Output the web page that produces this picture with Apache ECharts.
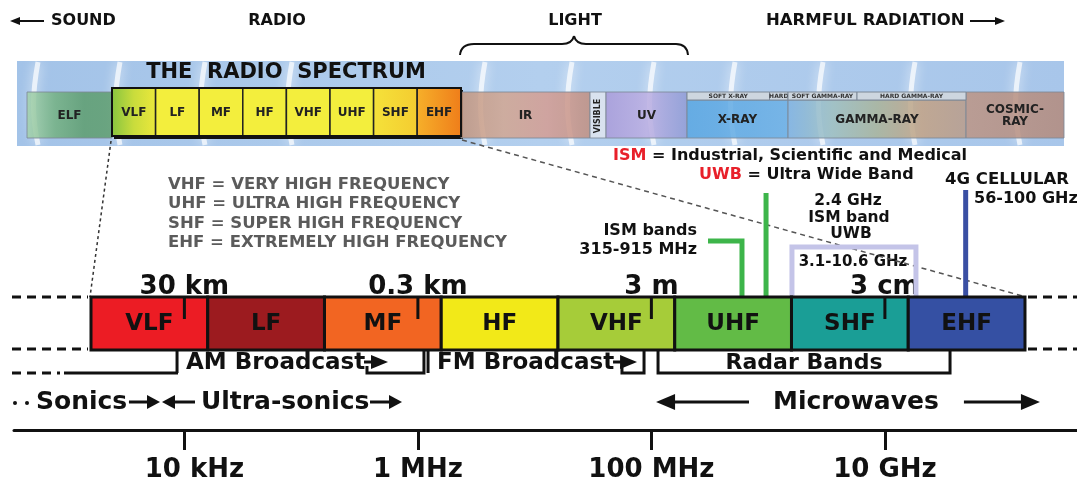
<!DOCTYPE html>
<html>
<head>
<meta charset="utf-8">
<script src="https://cdn.jsdelivr.net/npm/echarts@6/dist/echarts.min.js"></script>
<style>html,body{margin:0;padding:0;background:#fff}#main{width:1077px;height:477px}</style>
</head>
<body>
<div id="main"></div>
<script>
// main bands, positions in log10(Hz)
var bandNames = ['VLF', 'LF', 'MF', 'HF', 'VHF', 'UHF', 'SHF', 'EHF'];
var bandEdges = [3.2, 4.2, 5.2, 6.2, 7.2, 8.2, 9.2, 10.2, 11.2];

var freqTicks = [4, 6, 8, 10];
var freqLabels = ['10 kHz', '1 MHz', '100 MHz', '10 GHz'];
var waveLabels = ['30 km', '0.3 km', '3 m', '3 cm'];

var broadcastNames = ['AM Broadcast', 'FM Broadcast'];
var broadcastStart = [3.937, 6.087];
var broadcastBox = [5.564, 7.748];
var broadcastArrow = [5.744, 7.877];
var broadcastEnd = [6.052, 7.937];
var radarName = 'Radar Bands';
var radarRange = [8.057, 10.558];

var rowTexts = ['Sonics', 'Ultra-sonics', 'Microwaves'];
var rowTextAt = [2.729, 4.142, 9.752];
var rowArrowFrom = [3.525, 4.091, 5.59, 8.836, 10.677];
var rowArrowTo = [3.791, 3.808, 5.864, 8.04, 11.328];

var ismBracket = [8.485, 8.776];
var ism24 = 8.982;
var uwbRange = [9.204, 10.266];
var cell4g = 10.692;

// top strip (whole spectrum), relative widths
var stripNames = ['ELF', 'VLF', 'LF', 'MF', 'HF', 'VHF', 'UHF', 'SHF', 'EHF', 'IR', 'VISIBLE', 'UV', 'X-RAY', 'GAMMA-RAY', 'COSMIC-\nRAY'];
var stripWidths = [85, 43.6, 43.6, 43.6, 43.6, 43.6, 43.6, 43.6, 43.8, 129, 16, 81, 101, 178, 98];
var subNames = ['SOFT X-RAY', 'HARD', 'SOFT GAMMA-RAY', 'HARD GAMMA-RAY'];
var subWidths = [82.5, 18.5, 69, 109];

var F = '"DejaVu Sans", sans-serif';
var INK = '#111';
var bandColors = ['#ec1c24', '#9c1b1f', '#f26522', '#f2e918', '#a6cc39', '#62bb46', '#1a9e96', '#3550a3'];

function lg(stops) {
    return new echarts.graphic.LinearGradient(0, 0, 1, 0, stops.map(function (c, i) {
        return {offset: i / (stops.length - 1), color: c};
    }));
}
var stripColors = [
    lg(['#a6d3ae', '#74b181', '#5d9d6d', '#5f9e6e']),
    lg(['#86c440', '#c9dc3c', '#ece83b']),
    '#f3ee3d', '#f3ee3d', '#f3ee3d', '#f3ee3d', '#f3ee3d',
    lg(['#f5e23a', '#f4cc30']),
    lg(['#f6b02a', '#ef7d1a']),
    lg(['#c0957f', '#d2a691', '#d49c92', '#c08f80']),
    '#dfe5ef',
    lg(['#a99bd9', '#bcaee2', '#8f9bd5']),
    lg(['#58a6e2', '#6db1e6']),
    lg(['#80b3e2', '#9fc0c0', '#a9b49a', '#c3a284', '#b99c8a']),
    lg(['#bc9585', '#b38a7c'])
];

var Y = {bandTop: 297, bandBot: 350, tickBot: 319, wave: 287, brTop: 350, brBot: 373, brBox: 366, brText: 362, row: 402};

function line(p, q, color, w, dash) {
    return {type: 'line', shape: {x1: p[0], y1: p[1], x2: q[0], y2: q[1]}, style: {stroke: color, lineWidth: w, lineDash: dash || null}};
}
function curve(x1, y1, cx, cy, x2, y2) {
    return {type: 'bezierCurve', shape: {x1: x1, y1: y1, cpx1: cx, cpy1: cy, x2: x2, y2: y2}, style: {stroke: INK, lineWidth: 2, fill: null}};
}
function txt(x, y, s, font, align, fill) {
    return {type: 'text', x: x, y: y, style: {text: s, font: font, fill: fill || INK, align: align || 'center', verticalAlign: 'middle'}};
}
function arrow(x0, x1, y, head, half, w) {
    var dir = x1 > x0 ? 1 : -1;
    return [
        line([x0, y], [x1 - dir * head * 0.7, y], INK, w),
        {type: 'polygon', shape: {points: [[x1, y], [x1 - dir * head, y - half], [x1 - dir * head, y + half]]}, style: {fill: INK}}
    ];
}

var stripData = [];
var acc = 0;
stripWidths.forEach(function (w, i) { stripData.push([acc, acc + w, i]); acc += w; });
var subData = [];
acc = stripData[12][0];
subWidths.forEach(function (w, i) { subData.push([acc, acc + w, i]); acc += w; });

var labelFont = {fontSize: 26, fontWeight: 'bold', fontFamily: 'DejaVu Sans', color: INK};

var myecharts = echarts.init(document.getElementById('main'));
var option = {
    animation: false,
    grid: [
        {left: 14, right: 0, top: 0, bottom: 47, outerBoundsMode: 'none', containLabel: false},
        {left: 27, width: 1037, top: 92, height: 46, outerBoundsMode: 'none', containLabel: false}
    ],
    xAxis: [
        {
            type: 'value', gridIndex: 0, min: 2.5405, max: 11.6455,
            splitLine: {show: false},
            axisLine: {onZero: false, lineStyle: {color: INK, width: 3}},
            axisTick: {customValues: freqTicks, length: 20, lineStyle: {color: INK, width: 3}},
            axisLabel: {
                customValues: freqTicks, margin: 27,
                fontSize: 26, fontWeight: 'bold', fontFamily: 'DejaVu Sans', color: INK,
                formatter: function (v) {
                    var i = freqTicks.indexOf(Math.round(v));
                    return i === 0 ? '{s|' + freqLabels[i] + '}' : freqLabels[i];
                },
                rich: {s: Object.assign({padding: [0, 0, 0, 20]}, labelFont)}
            }
        },
        {type: 'value', gridIndex: 1, min: 0, max: 1037, show: false}
    ],
    yAxis: [
        {type: 'value', gridIndex: 0, min: 0, max: 430, inverse: true, show: false},
        {type: 'value', gridIndex: 1, min: 0, max: 46, inverse: true, show: false}
    ],
    graphic: [
        // strip background + glow streaks
        {type: 'rect', z: 0, shape: {x: 17, y: 61, width: 1047, height: 85}, style: {fill: lg(['#a3c3e8', '#b3cfee', '#a8c6ea'])}},
        {type: 'group', z: 0, children: [38, 120, 205, 292, 485, 572, 654, 735, 823, 915, 1020].map(function (x) {
            return {type: 'bezierCurve', shape: {x1: x, y1: 62, cpx1: x - 6, cpy1: 95, cpx2: x - 6, cpy2: 115, x2: x, y2: 145},
                style: {stroke: 'rgba(255,255,255,0.7)', lineWidth: 5, shadowBlur: 12, shadowColor: '#fff', fill: null}};
        })},
        {type: 'text', z: 10, x: 286, y: 73, style: {text: 'THE  RADIO  SPECTRUM', font: 'bold 21px ' + F, fill: INK, align: 'center', verticalAlign: 'middle'}},
        // top headings
        {type: 'group', z: 10, children: [
            txt(51, 21, 'SOUND', 'bold 16px ' + F, 'left'),
            txt(277, 21, 'RADIO', 'bold 16px ' + F),
            txt(575, 21, 'LIGHT', 'bold 16px ' + F),
            txt(766, 21, 'HARMFUL RADIATION', 'bold 16.5px ' + F, 'left'),
            curve(460, 55, 461, 44, 474, 44),
            line([474, 44], [562, 44], INK, 2),
            curve(562, 44, 572, 44, 574, 36),
            curve(574, 36, 576, 44, 586, 44),
            line([586, 44], [676, 44], INK, 2),
            curve(676, 44, 687, 44, 688, 55)
        ].concat(arrow(44, 10, 21, 10, 4, 2), arrow(970, 1005, 21, 10, 4, 2))},
        // legends
        {type: 'group', z: 10, children: [
            txt(168, 185, 'VHF = VERY HIGH FREQUENCY', 'bold 16.5px ' + F, 'left', '#5b5b5b'),
            txt(168, 204, 'UHF = ULTRA HIGH FREQUENCY', 'bold 16.5px ' + F, 'left', '#5b5b5b'),
            txt(168, 224, 'SHF = SUPER HIGH FREQUENCY', 'bold 16.5px ' + F, 'left', '#5b5b5b'),
            txt(168, 243, 'EHF = EXTREMELY HIGH FREQUENCY', 'bold 16.5px ' + F, 'left', '#5b5b5b'),
            {type: 'text', x: 613, y: 155.5, style: {text: '{r|ISM} = Industrial, Scientific and Medical', font: 'bold 16px ' + F, fill: INK, verticalAlign: 'middle',
                rich: {r: {fill: '#e8202a', font: 'bold 16px ' + F}}}},
            {type: 'text', x: 699, y: 174.5, style: {text: '{r|UWB} = Ultra Wide Band', font: 'bold 16px ' + F, fill: INK, verticalAlign: 'middle',
                rich: {r: {fill: '#e8202a', font: 'bold 16px ' + F}}}},
            txt(945, 180, '4G CELLULAR', 'bold 16.5px ' + F, 'left'),
            txt(974, 198.5, '56-100 GHz', 'bold 16px ' + F, 'left'),
            txt(848, 201, '2.4 GHz', 'bold 15.5px ' + F),
            txt(849, 217.5, 'ISM band', 'bold 15.5px ' + F),
            txt(851, 234, 'UWB', 'bold 15.5px ' + F),
            txt(697, 231, 'ISM bands', 'bold 16px ' + F, 'right'),
            txt(697, 250, '315-915 MHz', 'bold 16px ' + F, 'right'),
            txt(853, 262, '3.1-10.6 GHz', 'bold 15px ' + F)
        ]},
        // guide lines
        {type: 'group', z: 9, children: [
            line([111, 141], [90, 297], '#333', 1.5, [3, 3]),
            line([462, 140], [1026, 297], '#555', 1.5, [5, 4]),
            line([12, 297], [88, 297], INK, 3, [9, 6]),
            line([12, 349], [88, 349], INK, 3, [9, 6]),
            line([12, 373], [60, 373], INK, 3, [9, 6]),
            line([64, 373], [178, 373], INK, 3),
            line([1028, 297], [1077, 297], INK, 3, [9, 6]),
            line([1028, 349], [1077, 349], INK, 3, [9, 6]),
            {type: 'circle', shape: {cx: 15, cy: 403, r: 2}, style: {fill: INK}},
            {type: 'circle', shape: {cx: 27, cy: 403, r: 2}, style: {fill: INK}}
        ]}
    ],
    series: [
        {
            name: 'wavelength', type: 'custom', xAxisIndex: 0, yAxisIndex: 0, z: 1,
            data: freqTicks.map(function (v, i) { return [v, i]; }),
            renderItem: function (params, api) {
                var p = api.coord([api.value(0), Y.wave]);
                return txt(p[0], p[1], waveLabels[api.value(1)], 'bold 26px ' + F);
            }
        },
        {
            name: 'ISM bands', type: 'custom', xAxisIndex: 0, yAxisIndex: 0, z: 1,
            data: [[ismBracket[0], ismBracket[1]]],
            renderItem: function (params, api) {
                var a = api.coord([api.value(0), 241]), b = api.coord([api.value(1), 241]), c = api.coord([api.value(1), Y.bandTop]);
                return {type: 'polyline', shape: {points: [a, b, c]}, style: {stroke: '#3db54a', lineWidth: 5, fill: null}};
            }
        },
        {
            name: 'ISM 2.4', type: 'custom', xAxisIndex: 0, yAxisIndex: 0, z: 1,
            data: [[ism24]],
            renderItem: function (params, api) {
                return line(api.coord([api.value(0), 193]), api.coord([api.value(0), Y.bandTop]), '#3db54a', 5);
            }
        },
        {
            name: 'UWB', type: 'custom', xAxisIndex: 0, yAxisIndex: 0, z: 1,
            data: [[uwbRange[0], uwbRange[1]]],
            renderItem: function (params, api) {
                var x0 = api.value(0), x1 = api.value(1);
                return {type: 'polyline', shape: {points: [api.coord([x0, Y.bandTop]), api.coord([x0, 247]), api.coord([x1, 247]), api.coord([x1, Y.bandTop])]},
                    style: {stroke: '#c4c4e8', lineWidth: 5, fill: null}};
            }
        },
        {
            name: '4G', type: 'custom', xAxisIndex: 0, yAxisIndex: 0, z: 1,
            data: [[cell4g]],
            renderItem: function (params, api) {
                return line(api.coord([api.value(0), 190]), api.coord([api.value(0), Y.bandTop]), '#3a4fa3', 5);
            }
        },
        {
            name: 'bands', type: 'custom', xAxisIndex: 0, yAxisIndex: 0, z: 3,
            data: bandNames.map(function (n, i) { return [bandEdges[i], bandEdges[i + 1], i]; }),
            renderItem: function (params, api) {
                var i = api.value(2);
                var p0 = api.coord([api.value(0), Y.bandTop]);
                var p1 = api.coord([api.value(1), Y.bandBot]);
                return {type: 'group', children: [
                    {type: 'rect', shape: {x: p0[0], y: p0[1], width: p1[0] - p0[0], height: p1[1] - p0[1]},
                        style: {fill: bandColors[i], stroke: INK, lineWidth: 3}},
                    txt((p0[0] + p1[0]) / 2, (p0[1] + p1[1]) / 2 + 1, bandNames[i], 'bold 23px ' + F)
                ]};
            }
        },
        {
            name: 'wave ticks', type: 'custom', xAxisIndex: 0, yAxisIndex: 0, z: 4,
            data: freqTicks.map(function (v) { return [v]; }),
            renderItem: function (params, api) {
                return line(api.coord([api.value(0), Y.bandTop]), api.coord([api.value(0), Y.tickBot]), INK, 3);
            }
        },
        {
            name: 'broadcast', type: 'custom', xAxisIndex: 0, yAxisIndex: 0, z: 4,
            data: broadcastNames.map(function (n, i) { return [broadcastStart[i], broadcastBox[i], broadcastArrow[i], broadcastEnd[i], i]; }),
            renderItem: function (params, api) {
                var s = api.coord([api.value(0), Y.brTop]), bx = api.coord([api.value(1), Y.brBot]);
                var tip = api.coord([api.value(2), Y.brText]), e = api.coord([api.value(3), Y.brTop]);
                var i = api.value(4);
                return {type: 'group', children: [
                    line(s, [s[0], Y.brBot], INK, 3),
                    {type: 'polyline', shape: {points: [[bx[0], Y.brBox], bx, [e[0], Y.brBot], e]}, style: {stroke: INK, lineWidth: 3, fill: null}},
                    txt(s[0] + 9, Y.brText + 1, broadcastNames[i], 'bold 23px ' + F, 'left')
                ].concat(arrow(tip[0] - 24, tip[0], tip[1], 17, 7, 3))};
            }
        },
        {
            name: 'radar', type: 'custom', xAxisIndex: 0, yAxisIndex: 0, z: 4,
            data: [[radarRange[0], radarRange[1]]],
            renderItem: function (params, api) {
                var a = api.coord([api.value(0), Y.brTop]), b = api.coord([api.value(1), Y.brTop]);
                return {type: 'group', children: [
                    {type: 'polyline', shape: {points: [a, [a[0], Y.brBot], [b[0], Y.brBot], b]}, style: {stroke: INK, lineWidth: 3, fill: null}},
                    txt((a[0] + b[0]) / 2, Y.brText + 1, radarName, 'bold 22px ' + F)
                ]};
            }
        },
        {
            name: 'row text', type: 'custom', xAxisIndex: 0, yAxisIndex: 0, z: 4,
            data: rowTexts.map(function (t, i) { return [rowTextAt[i], i]; }),
            renderItem: function (params, api) {
                var i = api.value(1);
                var p = api.coord([api.value(0), Y.row]);
                return txt(p[0], p[1], rowTexts[i], 'bold 25px ' + F, i === 2 ? 'center' : 'left');
            }
        },
        {
            name: 'row arrows', type: 'custom', xAxisIndex: 0, yAxisIndex: 0, z: 4,
            data: rowArrowFrom.map(function (v, i) { return [v, rowArrowTo[i], i]; }),
            renderItem: function (params, api) {
                var big = api.value(2) >= 3;
                var a = api.coord([api.value(0), Y.row]), b = api.coord([api.value(1), Y.row]);
                return {type: 'group', children: arrow(a[0], b[0], a[1], big ? 19 : 13, big ? 8 : 7, 3)};
            }
        },
        {
            name: 'radio shadow', type: 'custom', xAxisIndex: 1, yAxisIndex: 1, z: 2,
            data: [[stripData[1][0], stripData[8][1]]],
            renderItem: function (params, api) {
                var p0 = api.coord([api.value(0), -4]), p1 = api.coord([api.value(1), 44]);
                return {type: 'rect', shape: {x: p0[0] + 2, y: p0[1] + 2, width: p1[0] - p0[0], height: p1[1] - p0[1] + 1}, style: {fill: '#111'}};
            }
        },
        {
            name: 'strip', type: 'custom', xAxisIndex: 1, yAxisIndex: 1, z: 3,
            data: stripData,
            renderItem: function (params, api) {
                var i = api.value(2);
                var radio = i >= 1 && i <= 8;
                var top = radio ? -4 : (i === 12 || i === 13 ? 8 : 0);
                var bot = radio ? 44 : 46;
                var p0 = api.coord([api.value(0), top]);
                var p1 = api.coord([api.value(1), bot]);
                var label = {type: 'text', x: (p0[0] + p1[0]) / 2, y: (p0[1] + p1[1]) / 2 + 1,
                    style: {text: stripNames[i], font: 'bold 12px ' + F, fill: '#222', align: 'center', verticalAlign: 'middle', lineHeight: 12}};
                if (stripNames[i] === 'VISIBLE') {
                    label.rotation = Math.PI / 2;
                    label.style.font = 'bold 8px ' + F;
                }
                return {type: 'group', children: [
                    {type: 'rect', shape: {x: p0[0], y: p0[1], width: p1[0] - p0[0], height: p1[1] - p0[1]},
                        style: {fill: stripColors[i], stroke: radio ? '#222' : '#7d8896', lineWidth: radio ? 1.5 : 1, opacity: radio ? 1 : 0.85}},
                    label
                ]};
            }
        },
        {
            name: 'strip sub', type: 'custom', xAxisIndex: 1, yAxisIndex: 1, z: 3,
            data: subData,
            renderItem: function (params, api) {
                var p0 = api.coord([api.value(0), 0]), p1 = api.coord([api.value(1), 8]);
                return {type: 'group', children: [
                    {type: 'rect', shape: {x: p0[0], y: p0[1], width: p1[0] - p0[0], height: p1[1] - p0[1]}, style: {fill: '#cdd6df', stroke: '#7d8896', lineWidth: 1}},
                    txt((p0[0] + p1[0]) / 2, (p0[1] + p1[1]) / 2 + 0.5, subNames[api.value(2)], 'bold 6px ' + F, 'center', '#333')
                ]};
            }
        },
        {
            name: 'radio box', type: 'custom', xAxisIndex: 1, yAxisIndex: 1, z: 4,
            data: [[stripData[1][0], stripData[8][1]]],
            renderItem: function (params, api) {
                var p0 = api.coord([api.value(0), -4]), p1 = api.coord([api.value(1), 44]);
                return {type: 'rect', shape: {x: p0[0], y: p0[1], width: p1[0] - p0[0], height: p1[1] - p0[1]}, style: {fill: null, stroke: INK, lineWidth: 2}};
            }
        }
    ]
};
myecharts.setOption(option);
</script>
</body>
</html>
